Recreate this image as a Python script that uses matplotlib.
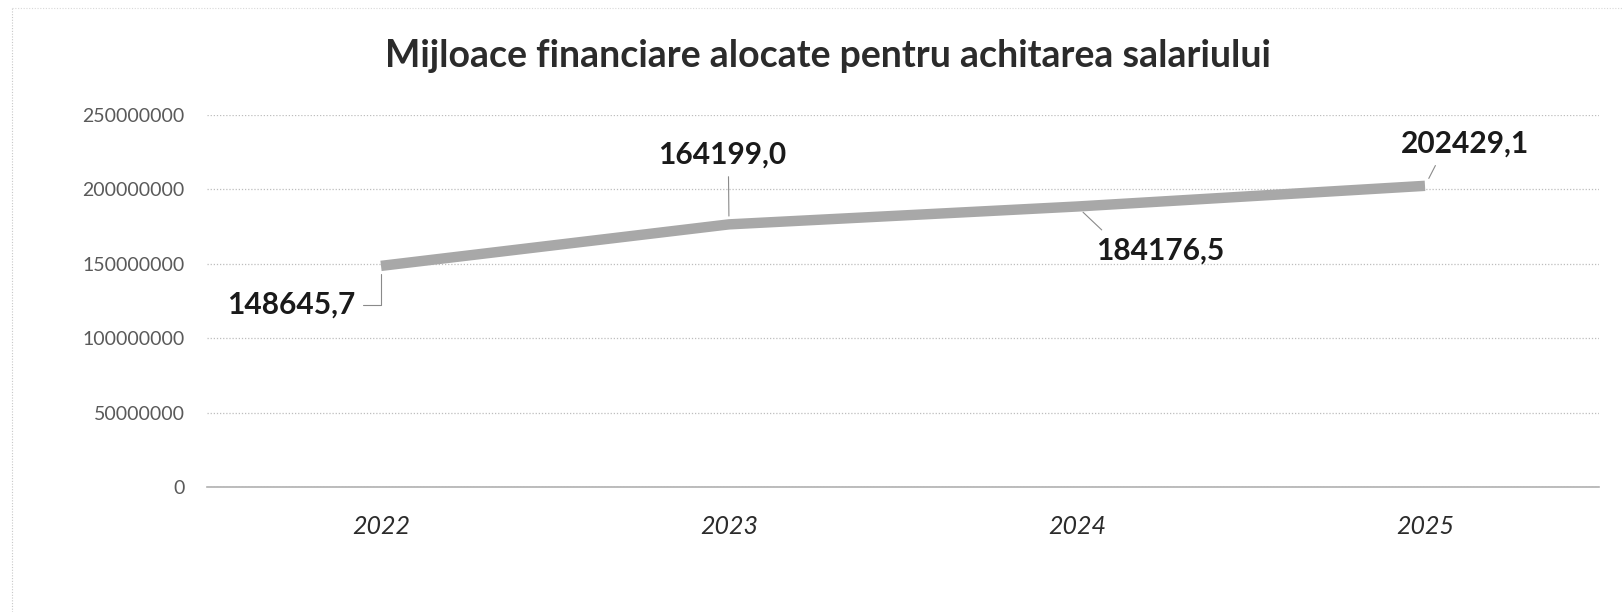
import matplotlib.pyplot as plt
from matplotlib.ticker import MultipleLocator

years = ["2022", "2023", "2024", "2025"]
# height of the grey line as it sits in the picture
line_values = [148.6e6, 176.5e6, 188.5e6, 202.4e6]
# numbers printed next to the points (thousands of lei)
label_values = [148645.7, 164199.0, 184176.5, 202429.1]

plt.rcParams['font.family'] = ['Lato', 'DejaVu Sans']

fig = plt.figure(figsize=(16.23, 6.12), dpi=100)
ax = fig.add_axes([207 / 1623, 125 / 612, 1392 / 1623, 372 / 612])

x = list(range(len(years)))
ax.plot(x, line_values, color='#a8a8a8', lw=7.5, solid_capstyle='butt', zorder=3)

ax.set_xlim(-0.5, len(years) - 0.5)
ax.set_ylim(0, 250000000)
ax.yaxis.set_major_locator(MultipleLocator(50000000))
ax.yaxis.set_major_formatter(lambda v, p: f"{int(v)}")
ax.grid(axis='y', linestyle=(0, (1, 1.5)), color='#bdbdbd', lw=0.9)
ax.set_axisbelow(True)
for s in ['top', 'right', 'left']:
    ax.spines[s].set_visible(False)
ax.spines['bottom'].set_color('#b0b0b0')
ax.spines['bottom'].set_linewidth(1.2)

ax.set_xticks(x)
ax.set_xticklabels(years, fontsize=18, style='italic', color='#2b2b2b')
ax.tick_params(axis='x', length=0, pad=20)
ax.tick_params(axis='y', length=0, pad=16, labelsize=14, labelcolor='#5a5a5a')

# label offsets in pixels from each point, where the leader leaves the text, and its shape
offsets = [(-90, -39), (-7, 70), (83, -44), (40, 42)]
relpos = [(1.0, 0.5), (0.55, 0.0), (0.1, 1.0), (0.3, 0.0)]
conn = ["angle,angleA=0,angleB=90,rad=0", "arc3", "arc3", "arc3"]
for i, (v, lab) in enumerate(zip(line_values, label_values)):
    txt = f"{lab:.1f}".replace('.', ',')
    ax.annotate(txt, xy=(i, v), xytext=offsets[i], textcoords='offset pixels',
                ha='center', va='center', fontsize=21.5, fontweight='bold',
                color='#1a1a1a',
                arrowprops=dict(arrowstyle='-', color='#8a8a8a', lw=0.8,
                                relpos=relpos[i], shrinkA=4, shrinkB=6,
                                connectionstyle=conn[i]))

fig.text(828 / 1623, 1 - 56 / 612, "Mijloace financiare alocate pentru achitarea salariului",
         ha='center', va='center', fontsize=27, fontweight='bold', color='#2b2b2b')

# faint dotted frame of the chart area
fig.add_artist(plt.Line2D([12 / 1623, 12 / 1623], [0, 1 - 8 / 612], transform=fig.transFigure,
                          color='#c8c8c8', lw=0.8, linestyle=(0, (1, 1.5))))
fig.add_artist(plt.Line2D([12 / 1623, 1], [1 - 8 / 612, 1 - 8 / 612], transform=fig.transFigure,
                          color='#d8d8d8', lw=0.8, linestyle=(0, (1, 1.5))))

fig.savefig('out.png', dpi=100)
